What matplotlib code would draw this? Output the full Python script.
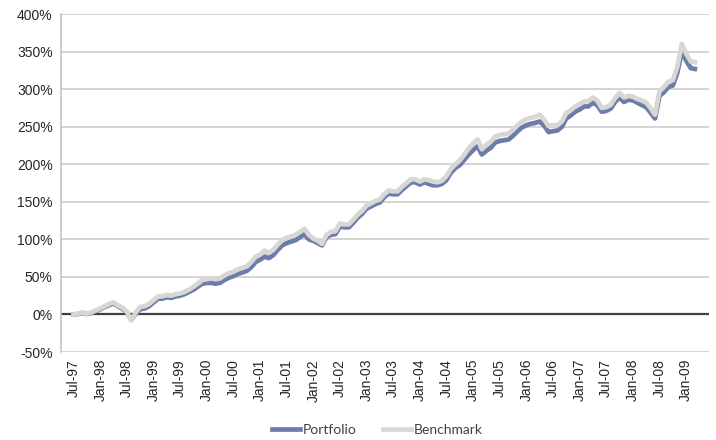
import matplotlib.pyplot as plt
import matplotlib.dates as mdates
import matplotlib.ticker as mticker
import pandas as pd

plt.rcParams["font.family"] = ["Liberation Sans", "DejaVu Sans"]

# Cumulative return, in percent, month by month from Jul-97 to Mar-09
months = pd.date_range("1997-07-01", periods=141, freq="MS")

benchmark = [
    0, 1, 2.5, 1, 3, 5.5, 8, 11, 14, 16, 12, 9, 4, -8,
    3, 10, 11, 14, 19, 24, 24, 26, 25, 27, 28, 30, 33, 37, 41,
    46, 47, 48, 47, 48, 52, 55, 57, 60, 62, 64, 70, 77, 80, 85, 82, 86, 93, 99, 102, 104, 106, 110, 114, 106,
    101, 98, 94, 106, 110, 111, 121, 120, 120, 126, 133, 138, 145, 148, 151, 153,
    160, 165, 164, 164, 170, 175, 180, 180, 177, 180, 179, 177, 176, 178, 184,
    194, 200, 205, 213, 221, 228, 233,
    220, 226, 230, 237, 239, 240, 241, 246, 252, 257, 260, 262, 263, 266, 260, 251, 252, 252, 257,
    268, 272, 277, 280, 284, 284, 289, 285, 275, 276, 279, 288, 295, 289, 291, 290, 287, 285, 282, 275, 266,
    297, 303, 310, 312, 330, 360, 347, 337, 336,
]

portfolio = [
    0, 0.5, 2, 0.5, 2, 4.5, 7, 10, 12.5, 14.5, 11, 7.5, 3, -7,
    1, 7, 8, 11, 16, 21, 21, 23, 22, 24, 25, 27, 30, 33, 37,
    41, 42, 42, 41, 42, 46, 49, 51, 54, 56, 58, 63, 70, 73, 77, 75, 79, 86, 92, 95, 97, 99, 103, 107, 100,
    98, 95, 92, 103, 106, 107, 117, 116, 116, 122, 129, 134, 141, 144, 147, 149,
    156, 161, 160, 160, 166, 171, 176, 176, 173, 176, 174, 172, 172, 174, 179,
    189, 195, 199, 206, 213, 219, 224,
    213, 218, 222, 229, 231, 232, 233, 238, 244, 249, 252, 254, 255, 257, 252, 243, 244, 245, 250,
    261, 265, 270, 273, 277, 277, 282, 279, 270, 271, 274, 283, 289, 283, 286, 285, 282, 279, 276, 269, 261,
    291, 296, 303, 305, 322, 350, 338, 328, 327,
]

label_dates = pd.date_range("1997-07-01", "2009-01-01", freq="6MS")

PORTFOLIO_COLOR = "#6c7cad"
BENCHMARK_COLOR = "#d9d7d3"
TEXT_COLOR = "#262626"

fig = plt.figure(figsize=(7.16, 4.40), dpi=100)
ax = fig.add_axes([0.0852, 0.2, 0.905, 0.768])

ax.plot(months, portfolio, color=PORTFOLIO_COLOR, lw=3.4, solid_joinstyle="round", label="Portfolio", zorder=3)
ax.plot(months, benchmark, color=BENCHMARK_COLOR, lw=3.4, solid_joinstyle="round", label="Benchmark", zorder=4)
ax.axhline(0, color="#404040", lw=1.6, zorder=2)

ax.set_ylim(-50, 400)
ax.yaxis.set_major_locator(mticker.MultipleLocator(50))
ax.yaxis.set_major_formatter(mticker.FuncFormatter(lambda v, _: f"{v:.0f}%"))
ax.set_xlim(months[0] - pd.Timedelta(days=86), months[-1] + pd.Timedelta(days=97))
ax.set_xticks(label_dates)
ax.xaxis.set_major_formatter(mdates.DateFormatter("%b-%y"))

ax.grid(axis="y", color="#c9c9c9", lw=1.1, zorder=0)
ax.set_axisbelow(True)
for side in ("top", "right", "bottom"):
    ax.spines[side].set_visible(False)
ax.spines["left"].set_color("#c0c0c0")
ax.spines["left"].set_linewidth(1.1)

ax.tick_params(axis="both", length=0, labelsize=10, labelcolor=TEXT_COLOR)
ax.tick_params(axis="x", pad=5)
ax.tick_params(axis="y", pad=6)
for lbl in ax.get_xticklabels():
    lbl.set_rotation(90)

fig.legend(loc="center", bbox_to_anchor=(0.527, 0.022), ncol=2, frameon=False,
           handlelength=2.0, columnspacing=1.9, handletextpad=0.2,
           prop={"family": "Lato", "size": 10}, labelcolor="#404040")

fig.savefig("out.png", dpi=100)
